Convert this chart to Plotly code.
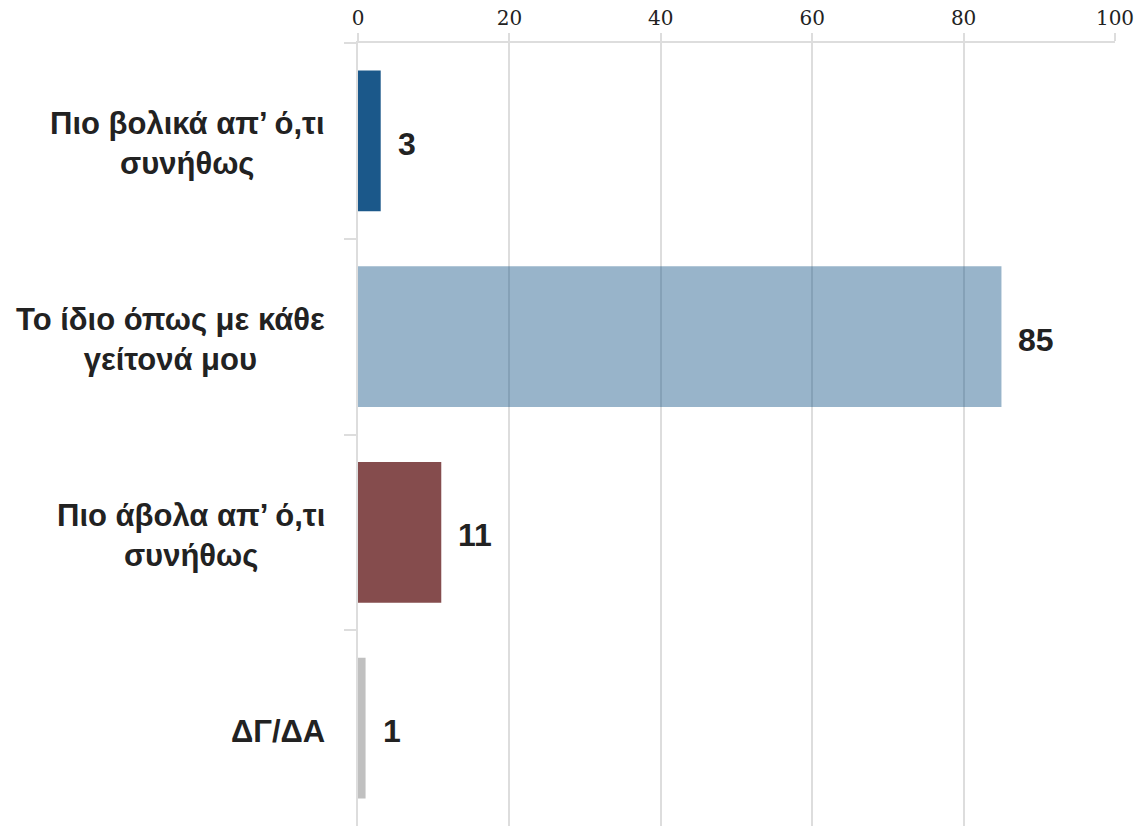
import plotly.graph_objects as go

categories = ["Πιο βολικά απ’ ό,τι<br>συνήθως",
              "Το ίδιο όπως με κάθε<br>γείτονά μου",
              "Πιο άβολα απ’ ό,τι<br>συνήθως",
              "ΔΓ/ΔΑ"]
values = [3, 85, 11, 1]
colors = ["#1b588a", "rgba(27,88,138,0.45)", "#854c4d", "#c0c0c0"]
x_ticks = [0, 20, 40, 60, 80, 100]

LABEL_FONT = "Liberation Sans, Arial, sans-serif"

fig = go.Figure()
fig.add_trace(go.Bar(
    x=values, y=categories, orientation="h",
    marker=dict(color=colors, line=dict(width=0)),
    width=0.72, hoverinfo="skip",
))

for c, v in zip(categories, values):
    fig.add_annotation(x=0, xref="paper", y=c, yref="y", text=c, showarrow=False,
                       xanchor="right", align="center", xshift=-31, yshift=-3,
                       font=dict(family=LABEL_FONT, size=31, color="#222222", weight="bold"))
    fig.add_annotation(x=v, xref="x", y=c, yref="y", text=str(v), showarrow=False,
                       xanchor="left", xshift=15, yshift=-3,
                       font=dict(family=LABEL_FONT, size=32, color="#222222", weight="bold"))

fig.update_layout(
    width=1137, height=826,
    margin=dict(l=358, r=22, t=43, b=0),
    plot_bgcolor="white", paper_bgcolor="white",
    showlegend=False,
    xaxis=dict(side="top", range=[0, 100], tickvals=x_ticks,
               showgrid=True, gridcolor="#dddddd", gridwidth=2,
               showline=True, linecolor="#dddddd", linewidth=2,
               ticks="outside", ticklen=8, tickcolor="#dddddd", tickwidth=2,
               zeroline=False,
               tickfont=dict(family="DejaVu Serif, serif", size=20, color="#222222")),
    yaxis=dict(type="category", categoryorder="array", categoryarray=categories,
               autorange="reversed", showticklabels=False,
               showgrid=False, zeroline=False,
               showline=True, linecolor="#dddddd", linewidth=2,
               ticks="outside", tickson="boundaries", ticklen=12,
               tickcolor="#dddddd", tickwidth=2),
)
fig.write_html("out.html", config={"displayModeBar": False},
               post_script="document.body.style.margin='0px';")
